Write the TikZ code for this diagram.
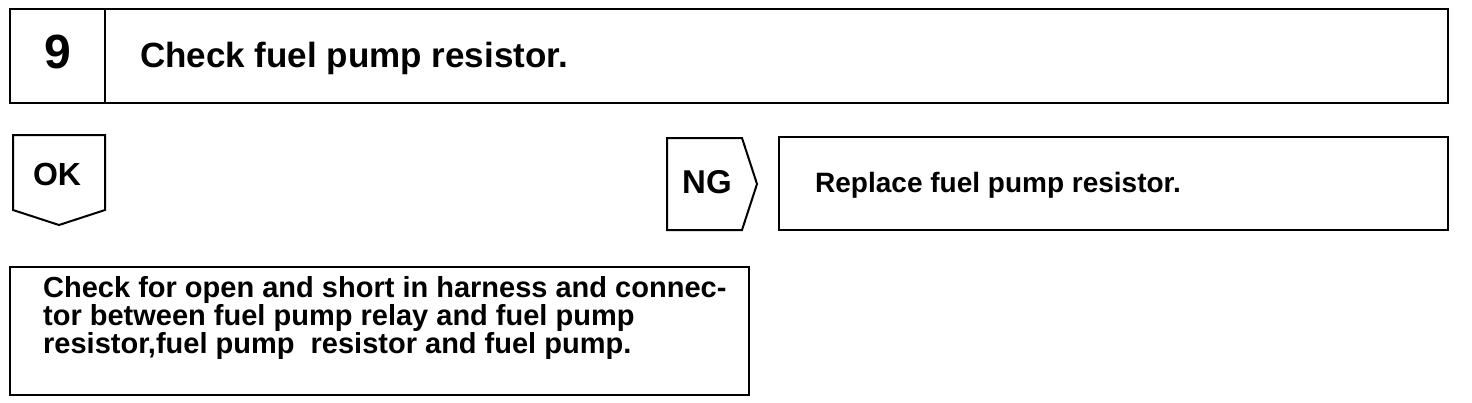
\documentclass[tikz,border=0pt]{standalone}
\usepackage{fontspec}
\setmainfont{Liberation Sans}

\begin{document}
\begin{tikzpicture}[x=1pt,y=-1pt]
\useasboundingbox (0,0) rectangle (1472,402);
% step header
\draw[line width=2pt] (10,9) rectangle (1448,103);
\draw[line width=1.6pt] (105,9) -- (105,103);
\node[anchor=base,inner sep=0] (num) at (58,68) {\fontsize{48}{48}\selectfont\bfseries 9};
\node[anchor=base west,inner sep=0] (title) at (140,67) {\fontsize{35}{35}\selectfont\bfseries Check fuel pump resistor.};
% OK tab
\draw[line width=2pt] (13,135) -- (105,135) -- (105,210) -- (59,225) -- (13,210) -- cycle;
\node[anchor=base,inner sep=0] (ok) at (57,185) {\fontsize{32}{32}\selectfont\bfseries OK};
% NG tab
\draw[line width=2pt] (667,138) -- (742,138) -- (757,184) -- (742,230) -- (667,230) -- cycle;
\node[anchor=base west,inner sep=0] (ng) at (682,193) {\fontsize{33}{33}\selectfont\bfseries NG};
\draw[line width=2pt] (779,137) rectangle (1448,230);
\node[anchor=base west,inner sep=0] (repl) at (815,192) {\fontsize{28}{28}\selectfont\bfseries Replace fuel pump resistor.};
% next check
\draw[line width=2pt] (10,267) rectangle (749,395);
\node[anchor=north west,inner sep=0,align=left,font=\fontsize{29}{25.5}\selectfont\bfseries] (chk) at (43,276)
  {Check for open and short in harness and connec-\\
   tor between fuel pump relay and fuel pump\\
   resistor,fuel pump\ \ resistor and fuel pump.};
\end{tikzpicture}
\end{document}
